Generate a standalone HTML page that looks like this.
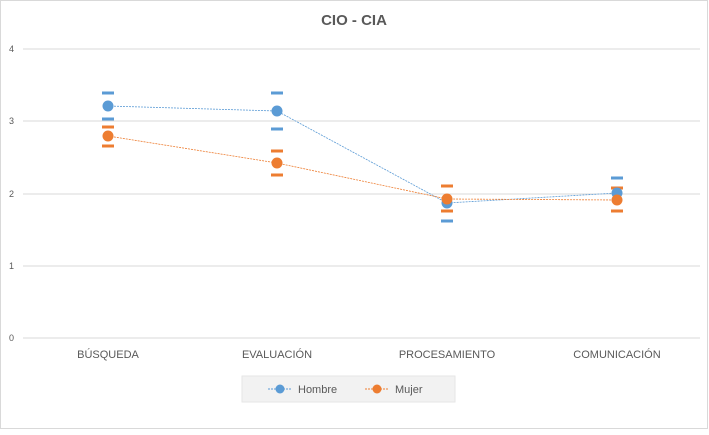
<!DOCTYPE html><html><head><style>body{margin:0;background:#fff}svg{font-family:"Liberation Sans",sans-serif}</style></head><body>
<svg width="709" height="430" viewBox="0 0 709 430">
<rect x="0.5" y="0.5" width="707" height="428" fill="#fff" stroke="#d9d9d9"/>
<text x="354" y="25" text-anchor="middle" font-size="15" font-weight="bold" fill="#595959">CIO - CIA</text>
<g stroke="#d9d9d9" stroke-width="1">
<line x1="23" x2="700" y1="49" y2="49"/><line x1="23" x2="700" y1="121" y2="121"/><line x1="23" x2="700" y1="194" y2="194"/><line x1="23" x2="700" y1="266" y2="266"/><line x1="23" x2="700" y1="338" y2="338"/></g>
<g font-size="9" fill="#595959" text-anchor="end"><text x="14" y="52">4</text><text x="14" y="124">3</text><text x="14" y="197">2</text><text x="14" y="269">1</text><text x="14" y="341">0</text></g>
<g font-size="11" fill="#595959" text-anchor="middle"><text x="108" y="358">BÚSQUEDA</text><text x="277" y="358">EVALUACIÓN</text><text x="447" y="358">PROCESAMIENTO</text><text x="617" y="358">COMUNICACIÓN</text></g>
<polyline points="108,106 277,111 447,203 617,193" fill="none" stroke="#5b9bd5" stroke-width="0.8" stroke-dasharray="2,1"/>
<polyline points="108,136 277,163 447,199 617,200" fill="none" stroke="#ed7d31" stroke-width="0.8" stroke-dasharray="2,1"/>
<g stroke="#5b9bd5" stroke-width="3">
<line x1="102" x2="114" y1="93" y2="93"/><line x1="102" x2="114" y1="119" y2="119"/>
<line x1="271" x2="283" y1="93" y2="93"/><line x1="271" x2="283" y1="129" y2="129"/>
<line x1="441" x2="453" y1="186" y2="186"/><line x1="441" x2="453" y1="221" y2="221"/>
<line x1="611" x2="623" y1="178" y2="178"/><line x1="611" x2="623" y1="211" y2="211"/></g>
<g stroke="#ed7d31" stroke-width="3">
<line x1="102" x2="114" y1="127" y2="127"/><line x1="102" x2="114" y1="146" y2="146"/>
<line x1="271" x2="283" y1="151" y2="151"/><line x1="271" x2="283" y1="175" y2="175"/>
<line x1="441" x2="453" y1="186" y2="186"/><line x1="441" x2="453" y1="211" y2="211"/>
<line x1="611" x2="623" y1="188" y2="188"/><line x1="611" x2="623" y1="211" y2="211"/></g>
<g fill="#5b9bd5"><circle cx="108" cy="106" r="5.5"/><circle cx="277" cy="111" r="5.5"/><circle cx="447" cy="203" r="5.5"/><circle cx="617" cy="193" r="5.5"/></g>
<g fill="#ed7d31"><circle cx="108" cy="136" r="5.5"/><circle cx="277" cy="163" r="5.5"/><circle cx="447" cy="199" r="5.5"/><circle cx="617" cy="200" r="5.5"/></g>
<rect x="242" y="376" width="213" height="26" fill="#f2f2f2" stroke="#e6e6e6"/>
<line x1="268" x2="292" y1="389" y2="389" stroke="#5b9bd5" stroke-dasharray="2,1"/><circle cx="280" cy="389" r="4.5" fill="#5b9bd5"/>
<text x="298" y="393" font-size="11" fill="#595959">Hombre</text>
<line x1="365" x2="389" y1="389" y2="389" stroke="#ed7d31" stroke-dasharray="2,1"/><circle cx="377" cy="389" r="4.5" fill="#ed7d31"/>
<text x="395" y="393" font-size="11" fill="#595959">Mujer</text>
</svg></body></html>
